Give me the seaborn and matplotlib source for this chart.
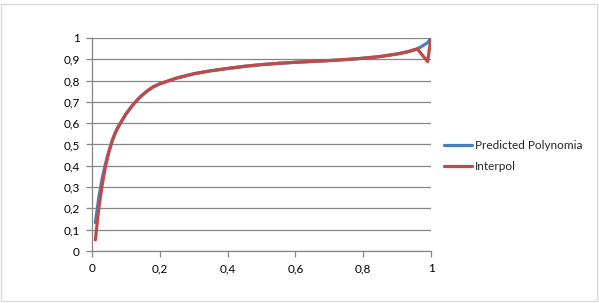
import matplotlib
matplotlib.use("Agg")
import matplotlib.pyplot as plt
import seaborn as sns
import pandas as pd
from matplotlib.patches import Rectangle
from matplotlib.lines import Line2D
from matplotlib.ticker import FuncFormatter, MultipleLocator

sns.set_theme(style="white")
plt.rcParams['font.family'] = ['Lato', 'DejaVu Sans']

# Data
x_blue = [0.01, 0.02, 0.03, 0.04, 0.05, 0.06, 0.07, 0.08, 0.10, 0.12, 0.14, 0.16,
          0.18, 0.20, 0.25, 0.30, 0.35, 0.40, 0.45, 0.50, 0.55, 0.60, 0.65, 0.70,
          0.75, 0.80, 0.85, 0.90, 0.93, 0.95, 0.97, 0.99, 1.00]
y_blue = [0.133, 0.25, 0.34, 0.41, 0.47, 0.52, 0.56, 0.59, 0.643, 0.685, 0.72, 0.748,
          0.77, 0.785, 0.812, 0.832, 0.846, 0.857, 0.867, 0.875, 0.881, 0.886, 0.890, 0.894,
          0.899, 0.905, 0.913, 0.925, 0.935, 0.943, 0.958, 0.978, 1.00]

x_red = [0.01, 0.02, 0.03, 0.04, 0.05, 0.06, 0.07, 0.08, 0.10, 0.12, 0.14, 0.16,
         0.18, 0.20, 0.25, 0.30, 0.35, 0.40, 0.45, 0.50, 0.55, 0.60, 0.65, 0.70,
         0.75, 0.80, 0.85, 0.90, 0.93, 0.95, 0.96, 0.99, 1.00]
y_red = [0.052, 0.20, 0.31, 0.40, 0.465, 0.52, 0.56, 0.59, 0.643, 0.685, 0.72, 0.748,
         0.77, 0.785, 0.812, 0.832, 0.846, 0.857, 0.867, 0.875, 0.881, 0.886, 0.890, 0.894,
         0.899, 0.905, 0.913, 0.925, 0.935, 0.945, 0.948, 0.889, 1.00]

series_names = ["Predicted Polynomia", "Interpol"]
colors = ["#4A7EBB", "#BE4B48"]

df = pd.concat([
    pd.DataFrame({"x": x_blue, "y": y_blue, "series": series_names[0]}),
    pd.DataFrame({"x": x_red, "y": y_red, "series": series_names[1]}),
])

fig = plt.figure(figsize=(5.99, 3.03), dpi=100)
ax = fig.add_axes([92/599, 1-251/303, (431-92)/599, (251-38)/303])

sns.lineplot(data=df, x="x", y="y", hue="series", palette=colors, sort=False,
             linewidth=2.3, ax=ax, legend=False, estimator=None)

ax.set_xlim(0, 1)
ax.set_ylim(0, 1)
ax.xaxis.set_major_locator(MultipleLocator(0.2))
ax.yaxis.set_major_locator(MultipleLocator(0.1))
fmt = FuncFormatter(lambda v, p: ("%g" % round(v, 2)).replace(".", ","))
ax.xaxis.set_major_formatter(fmt)
ax.yaxis.set_major_formatter(fmt)
ax.set_xlabel("")
ax.set_ylabel("")
ax.grid(axis="y", color="#868686", linewidth=0.9)
ax.grid(axis="x", visible=False)
for s in ["top", "right"]:
    ax.spines[s].set_visible(False)
for s in ["left", "bottom"]:
    ax.spines[s].set_color("#868686")
    ax.spines[s].set_linewidth(0.9)
ax.tick_params(axis="both", which="major", length=4, width=0.9, color="#868686",
               labelsize=8.5, labelcolor="#000000", direction="out", pad=5,
               left=True, bottom=True)

handles = [Line2D([], [], color=c, linewidth=2.3) for c in colors]
fig.legend(handles, series_names, loc="upper left", bbox_to_anchor=(439/599, 1-135/303),
           frameon=False, fontsize=8.5, handlelength=2.4, handletextpad=0.25,
           labelspacing=0.85, borderaxespad=0)

fig.patches.append(Rectangle((1/599, 2/303), 596/599, 297/303, transform=fig.transFigure,
                             fill=False, edgecolor="#d9d9d9", linewidth=1))

fig.savefig("out.png", dpi=100)
